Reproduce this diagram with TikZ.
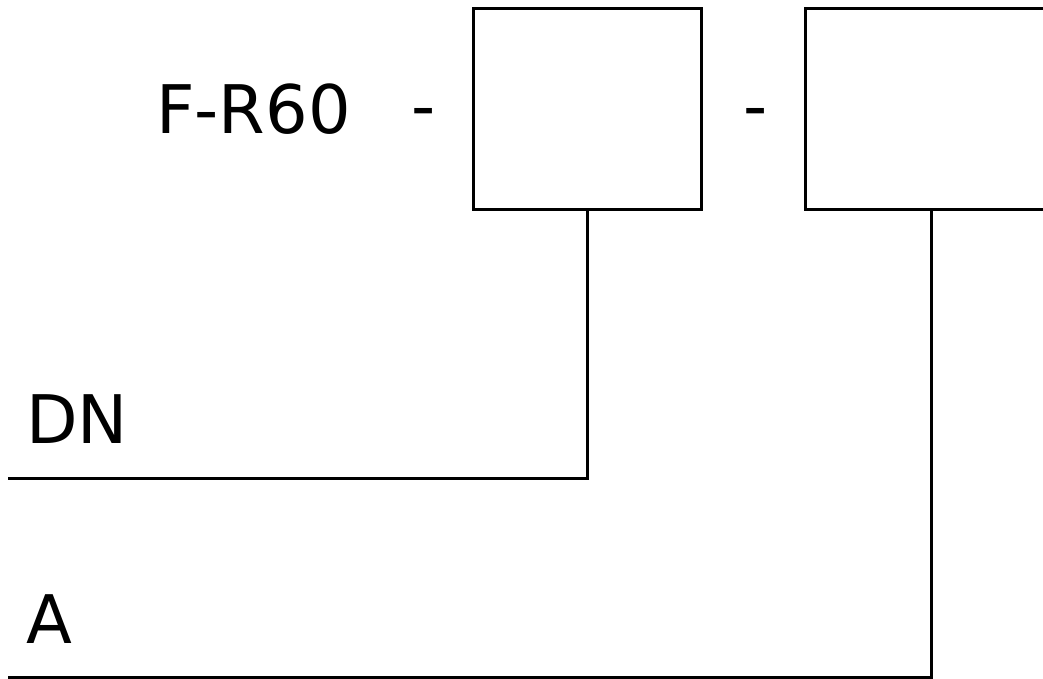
\documentclass[tikz,border=0pt]{standalone}
\usepackage{fontspec}
\setmainfont{DejaVu Sans}
\begin{document}
\begin{tikzpicture}[x=1pt,y=-1pt,
  wire/.style={line width=3pt,black},
  field/.style={draw,line width=3pt,minimum width=228pt,minimum height=200pt,inner sep=0pt},
  lbl/.style={font=\fontsize{67}{67}\selectfont,inner sep=0pt}]
  \useasboundingbox (0,0) rectangle (1043,679);
  \clip (0,0) rectangle (1043,679);
  % code fields
  \node[field] (b1) at (587,109) {};
  \node[field,minimum width=252pt] (b2) at (931,109) {};
  % labels
  \node[lbl,anchor=base west] (code) at (156,134) {F-R60};
  \node[lbl,anchor=base] (d1) at (424,130) {-};
  \node[lbl,anchor=base] (d2) at (756,130) {-};
  \node[lbl,anchor=base west] (dn) at (26,443) {DN};
  \node[lbl,anchor=base west] (a) at (26,643) {A};
  % lead lines
  \coordinate (dnend) at (8,478);
  \coordinate (aend) at (8,677.5);
  \draw[wire] (b1.south) |- (dnend);
  \draw[wire] (b2.south) |- (aend);
\end{tikzpicture}
\end{document}
